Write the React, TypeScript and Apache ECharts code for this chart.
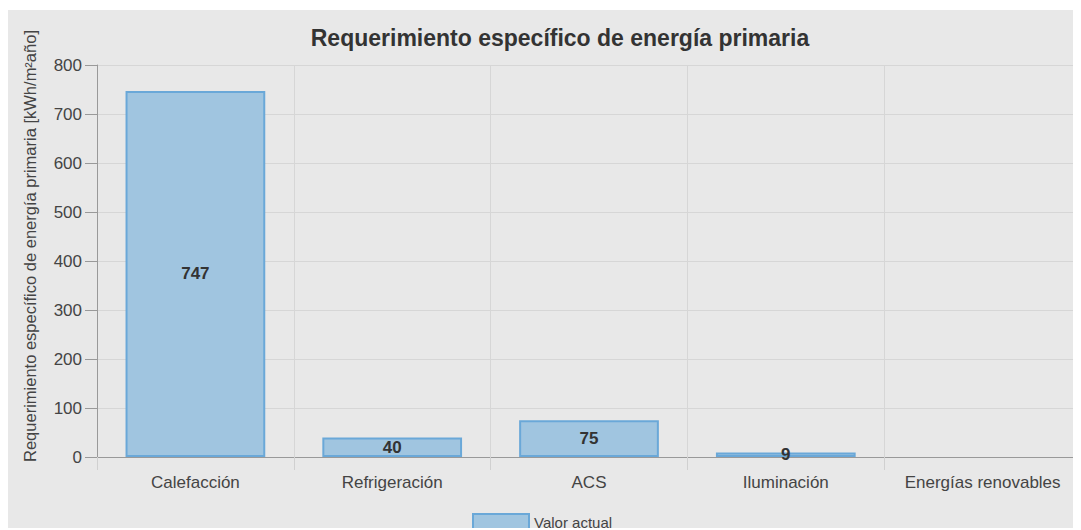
import React, { useEffect, useRef } from "react";
import * as echarts from "echarts";

const categories = ["Calefacción", "Refrigeración", "ACS", "Iluminación", "Energías renovables"];
const values: (number | null)[] = [747, 40, 75, 9, null];
const seriesName = "Valor actual";
const titleText = "Requerimiento específico de energía primaria";
const yAxisName = "Requerimiento específico de energía primaria [kWh/m²año]";

export default function App() {
  const ref = useRef<HTMLDivElement>(null);
  useEffect(() => {
    if (!ref.current) return;
    const chart = echarts.init(ref.current, undefined, { renderer: "svg" });
    const font = "Liberation Sans, Arial, sans-serif";
    chart.setOption({
      animation: false,
      backgroundColor: "#e8e8e8",
      textStyle: { fontFamily: font },
      title: {
        text: titleText,
        left: 547,
        top: 11,
        textAlign: "center",
        textStyle: { fontSize: 23, fontWeight: "bold", color: "#333", fontFamily: font },
      },
      graphic: [
        {
          type: "text",
          x: 22,
          y: 236,
          rotation: Math.PI / 2,
          style: {
            text: yAxisName,
            fontSize: 16.5,
            fill: "#444",
            fontFamily: font,
            textAlign: "center",
            textVerticalAlign: "middle",
          },
        },
      ],
      legend: {
        data: [seriesName],
        left: 464,
        top: 503,
        padding: 0,
        itemWidth: 56,
        itemHeight: 16,
        icon: "rect",
        itemGap: 8,
        textStyle: { fontSize: 15, color: "#444", fontFamily: font, lineHeight: 16 },
      },
      grid: { left: 89, right: 0, top: 55, bottom: 73, containLabel: false },
      xAxis: {
        type: "category",
        data: categories,
        boundaryGap: true,
        axisLine: { show: true, lineStyle: { color: "#999", width: 1 } },
        axisTick: { show: true, length: 13, alignWithLabel: false, lineStyle: { color: "#d0d0d0" } },
        splitLine: { show: true, lineStyle: { color: "#d6d6d6" } },
        axisLabel: { fontSize: 17, color: "#444", margin: 17, fontFamily: font, interval: 0, hideOverlap: false },
      },
      yAxis: {
        type: "value",
        min: 0,
        max: 800,
        interval: 100,
        axisLine: { show: true, lineStyle: { color: "#999" } },
        axisTick: { show: true, length: 12, lineStyle: { color: "#999" } },
        splitLine: { show: true, lineStyle: { color: "#d6d6d6" } },
        axisLabel: { fontSize: 17, color: "#444", margin: 15, fontFamily: font },
      },
      series: [
        {
          name: seriesName,
          type: "bar",
          data: values,
          barCategoryGap: "29%",
          itemStyle: { color: "#a0c5e0", borderColor: "#6aa8d8", borderWidth: 2 },
          label: {
            show: true,
            position: "inside",
            fontSize: 17,
            fontWeight: "bold",
            color: "#333",
            fontFamily: font,
          },
        },
      ],
    });
    return () => chart.dispose();
  }, []);
  return (
    <div
      ref={ref}
      style={{ width: 1073, height: 520, position: "relative", top: 2 }}
    />
  );
}
